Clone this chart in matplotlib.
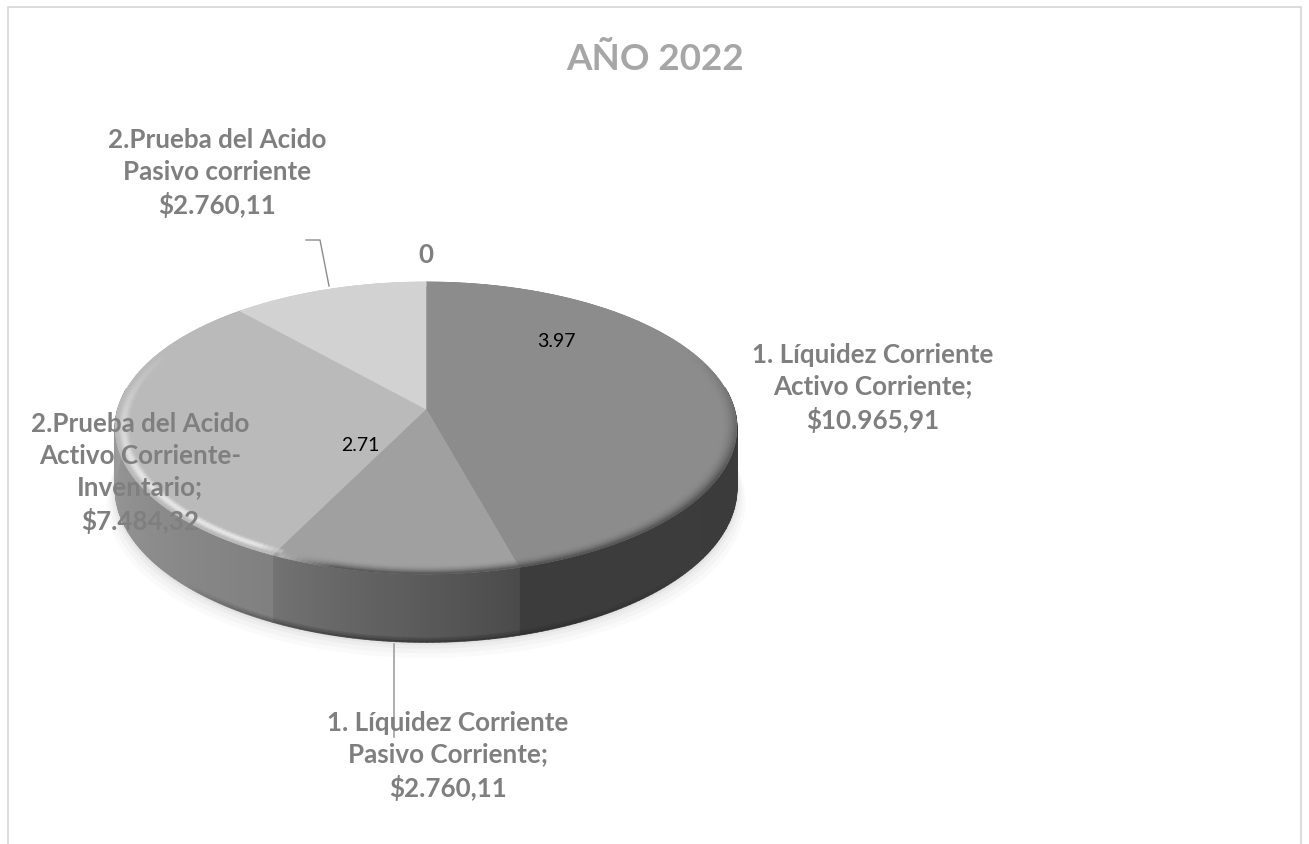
import numpy as np
import matplotlib
matplotlib.use("Agg")
import matplotlib.pyplot as plt
from matplotlib.patches import Polygon

plt.rcParams['font.family'] = ['Lato', 'DejaVu Sans']

# Chart data
title = "AÑO 2022"
slice_names = ["1. Líquidez Corriente\nActivo Corriente;",
               "1. Líquidez Corriente\nPasivo Corriente;",
               "2.Prueba del Acido\nActivo Corriente-\nInventario;",
               "2.Prueba del Acido\nPasivo corriente"]
slice_values = [10965.91, 2760.11, 7484.32, 2760.11]
slice_value_text = ["$10.965,91", "$2.760,11", "$7.484,32", "$2.760,11"]
ratio_labels = ["3.97", "2.71", "0"]

top_colors = ["#8c8c8c", "#a0a0a0", "#bababa", "#d2d2d2"]
side_from = ["#3a3a3a", "#4b4b4b", "#808080", "#b0b0b0"]
side_to = ["#3c3c3c", "#727272", "#aeaeae", "#b0b0b0"]

# Pixel geometry of the pie
CX, CY = 426, 410
RX, RY = 308, 143.5
PERSP = 0.13
DEPTH = 59


def project(theta, r=1.0, drop=0.0):
    # theta in degrees, clockwise from the back of the pie
    a = np.radians(theta)
    w = 1 / (1 + PERSP * r * np.cos(a))
    return CX + RX * r * np.sin(a) * w, CY - RY * r * np.cos(a) * w + drop * w


def rim(theta, r=1.0, drop=0.0):
    x, y = project(np.asarray(theta, dtype=float), r, drop)
    return np.column_stack([x, y])


def mix(c1, c2, t):
    a = np.array(matplotlib.colors.to_rgb(c1))
    b = np.array(matplotlib.colors.to_rgb(c2))
    return tuple(a + (b - a) * t)


def edge_colour(theta):
    # dark bevel on the right of the pie, going bright on the front left
    t = np.clip((theta - 195) / 15, 0, 1)
    return mix("#4a4a4a", "#f2f2f2", t)


fig = plt.figure(figsize=(13.09, 8.45), dpi=100)
ax = fig.add_axes([0, 0, 1, 1])
ax.set_xlim(0, 1309)
ax.set_ylim(845, 0)
ax.axis("off")

# chart frame, open at the bottom
ax.plot([8, 8, 1301, 1301], [845, 8, 8, 845], color="#d9d9d9", lw=1.3)

shares = np.array(slice_values) / sum(slice_values) * 360
edges = np.concatenate([[0], np.cumsum(shares)])

# soft shadow under the pie
circle = np.linspace(0, 360, 241)
for grow, alpha in zip([14, 10, 6, 3], [0.03, 0.04, 0.05, 0.07]):
    pts = rim(circle, 1.0, DEPTH + grow)
    pts[:, 0] = CX + (pts[:, 0] - CX) * (1 + grow / 500)
    ax.add_patch(Polygon(pts, closed=True, fc="#707070", ec="none", alpha=alpha, zorder=1))

# side wall, one thin strip at a time
for i in range(4):
    start, stop = edges[i], edges[i + 1]
    steps = max(int(stop - start), 2)
    cuts = np.linspace(start, stop, steps + 1)
    for j in range(steps):
        pair = cuts[j:j + 2]
        if np.cos(np.radians(pair.mean())) > 0.15:
            continue
        col = mix(side_from[i], side_to[i], j / max(steps - 1, 1))
        strip = np.vstack([rim(pair), rim(pair[::-1], 1.0, DEPTH)])
        ax.add_patch(Polygon(strip, closed=True, fc=col, ec=col, lw=1.2, zorder=2))

# darker lip along the bottom of the wall, fading at both ends
low = np.linspace(130, 225, 96)
for s in range(len(low) - 1):
    seg = low[s:s + 2]
    strength = np.sin((seg.mean() - 130) / 95 * np.pi)
    for d, a in zip([DEPTH, DEPTH - 1.5, DEPTH - 3], [0.6, 0.35, 0.2]):
        seg_pts = rim(seg, 1.0, d)
        ax.plot(seg_pts[:, 0], seg_pts[:, 1], color="#2a2a2a", lw=1.6, alpha=a * strength,
                solid_capstyle="butt", zorder=3)

# top faces
for i in range(4):
    arc = np.linspace(edges[i], edges[i + 1], 120)
    face = np.vstack([[CX, CY], rim(arc)])
    ax.add_patch(Polygon(face, closed=True, fc=top_colors[i], ec=top_colors[i], lw=0.4, zorder=4))

# bevel on the rim of the top face
rings = np.linspace(0.955, 1.0, 10)
for i in range(4):
    cuts = np.linspace(edges[i], edges[i + 1], max(int(shares[i]), 2) + 1)
    for j in range(len(cuts) - 1):
        mid = cuts[j:j + 2].mean()
        # fade out towards the back of the pie
        fade = np.clip((0.45 - np.cos(np.radians(mid))) / 0.9, 0, 1)
        for n in range(len(rings) - 1):
            pos = (n + 1) / (len(rings) - 1)
            if mid > 205:
                # bright band inside the rim, grey again at the very edge
                t = np.sin(pos * np.pi) ** 2 * fade * 0.8
            else:
                t = pos ** 2 * fade * 0.8
            col = mix(top_colors[i], edge_colour(mid), t)
            band = np.vstack([rim(cuts[j:j + 2], rings[n]), rim(cuts[j:j + 2][::-1], rings[n + 1])])
            ax.add_patch(Polygon(band, closed=True, fc=col, ec=col, lw=0.6, zorder=5))

# leader lines
ax.plot([306, 320, 329], [241, 241, 287], color="#8c8c8c", lw=1, zorder=6)
ax.plot([394, 394], [645, 738], color="#a0a0a0", lw=1.2, zorder=6)

# texts
grey = "#7f7f7f"
ax.text(655, 59, title, ha="center", va="center", fontsize=26.5, fontweight="bold", color="#a6a6a6", zorder=7)

label_xy = [(873, 388), (448, 756), (140, 473), (217, 173)]
for i in range(4):
    ax.text(label_xy[i][0], label_xy[i][1], slice_names[i] + "\n" + slice_value_text[i],
            ha="center", va="center", fontsize=18.7, fontweight="bold", color=grey,
            linespacing=1.4, zorder=7)

ax.text(556, 342, ratio_labels[0], ha="center", va="center", fontsize=14, color="black", zorder=7)
ax.text(360, 446, ratio_labels[1], ha="center", va="center", fontsize=14, color="black", zorder=7)
ax.text(426, 255, ratio_labels[2], ha="center", va="center", fontsize=18.7, fontweight="bold", color=grey, zorder=7)

fig.savefig("out.png", dpi=100)
